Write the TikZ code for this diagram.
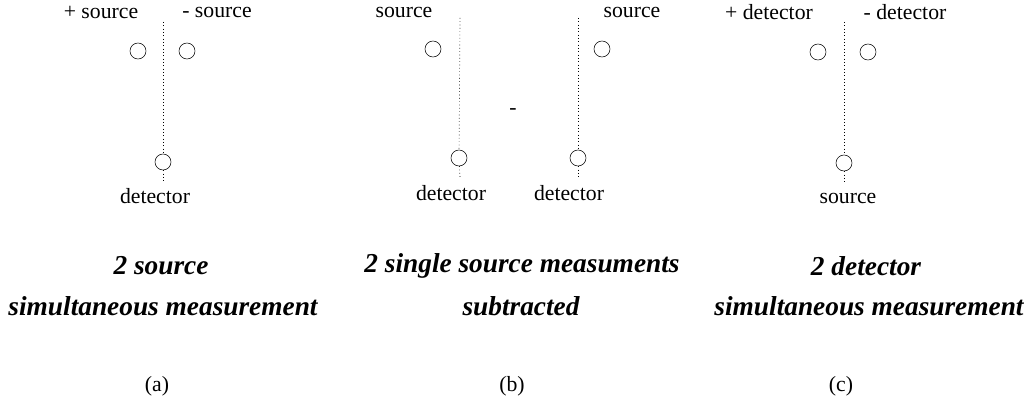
\documentclass[tikz,border=0pt]{standalone}
\usepackage{fontspec}
\setmainfont{Liberation Serif}
\usepackage{tikz}

\tikzset{
  probe/.style={draw, circle, fill=white, inner sep=0pt, minimum size=12pt},
  lbl/.style={inner sep=0.75pt, font=\fontsize{16.3}{19}\selectfont},
  ttl/.style={inner sep=0.75pt, font=\fontsize{20.5}{24}\selectfont\bfseries\itshape},
  axis/.style={dotted, line width=0.5pt}
}

\begin{document}
\begin{tikzpicture}[x=0.75pt,y=0.75pt,yscale=-1,xscale=1]
\useasboundingbox (0,0) rectangle (1035,402);

% (a) two sources, one detector
\coordinate (atop) at (163,22);
\coordinate (abot) at (163,183);
\node [probe] (asp) at (138,51) {};
\node [probe] (asm) at (187,51) {};
\node [probe] (adet) at (163,162) {};
\draw [axis] (atop) -- (adet);
\draw [axis] (adet) -- (abot);
% Text Node
\node [lbl] (asplbl) at (101,12) {+ source};
\node [lbl] (asmlbl) at (217,12) {- source};
\node [lbl] (adetlbl) at (155,196) {detector};
\node [ttl] (att1) at (161,266) {2 source};
\node [ttl] (att2) at (163,306) {simultaneous measurement};
\node [lbl] (acap) at (157,386) {(a)};

% (b) two single source measurements
\coordinate (b1top) at (460,18);
\coordinate (b1bot) at (460,178);
\coordinate (b2top) at (578,18);
\coordinate (b2bot) at (578,178);
\node [probe] (b1src) at (433,49) {};
\node [probe] (b1det) at (459,158) {};
\node [probe] (b2src) at (602,49) {};
\node [probe] (b2det) at (578,158) {};
\draw [axis] (b1top) -- (b1det);
\draw [axis] (b1det) -- (b1bot);
\draw [axis] (b2top) -- (b2det);
\draw [axis] (b2det) -- (b2bot);
% Text Node
\node [lbl] (b1srclbl) at (404,12) {source};
\node [lbl] (b2srclbl) at (632,12) {source};
\node [lbl] (bminus) at (513,112) {-};
\node [lbl] (b1detlbl) at (451,193) {detector};
\node [lbl] (b2detlbl) at (569,193) {detector};
\node [ttl] (btt1) at (522,266) {2 single source measuments};
\node [ttl] (btt2) at (521,306) {subtracted};
\node [lbl] (bcap) at (512,386) {(b)};

% (c) two detectors, one source
\coordinate (ctop) at (844,22);
\coordinate (cbot) at (844,183);
\node [probe] (cdp) at (818,52) {};
\node [probe] (cdm) at (868,52) {};
\node [probe] (csrc) at (844,163) {};
\draw [axis] (ctop) -- (csrc);
\draw [axis] (csrc) -- (cbot);
% Text Node
\node [lbl] (cdplbl) at (769,12) {+ detector};
\node [lbl] (cdmlbl) at (905,12) {- detector};
\node [lbl] (csrclbl) at (848,198) {source};
\node [ttl] (ctt1) at (866,266) {2 detector};
\node [ttl] (ctt2) at (869,306) {simultaneous measurement};
\node [lbl] (ccap) at (841,386) {(c)};

\end{tikzpicture}
\end{document}
